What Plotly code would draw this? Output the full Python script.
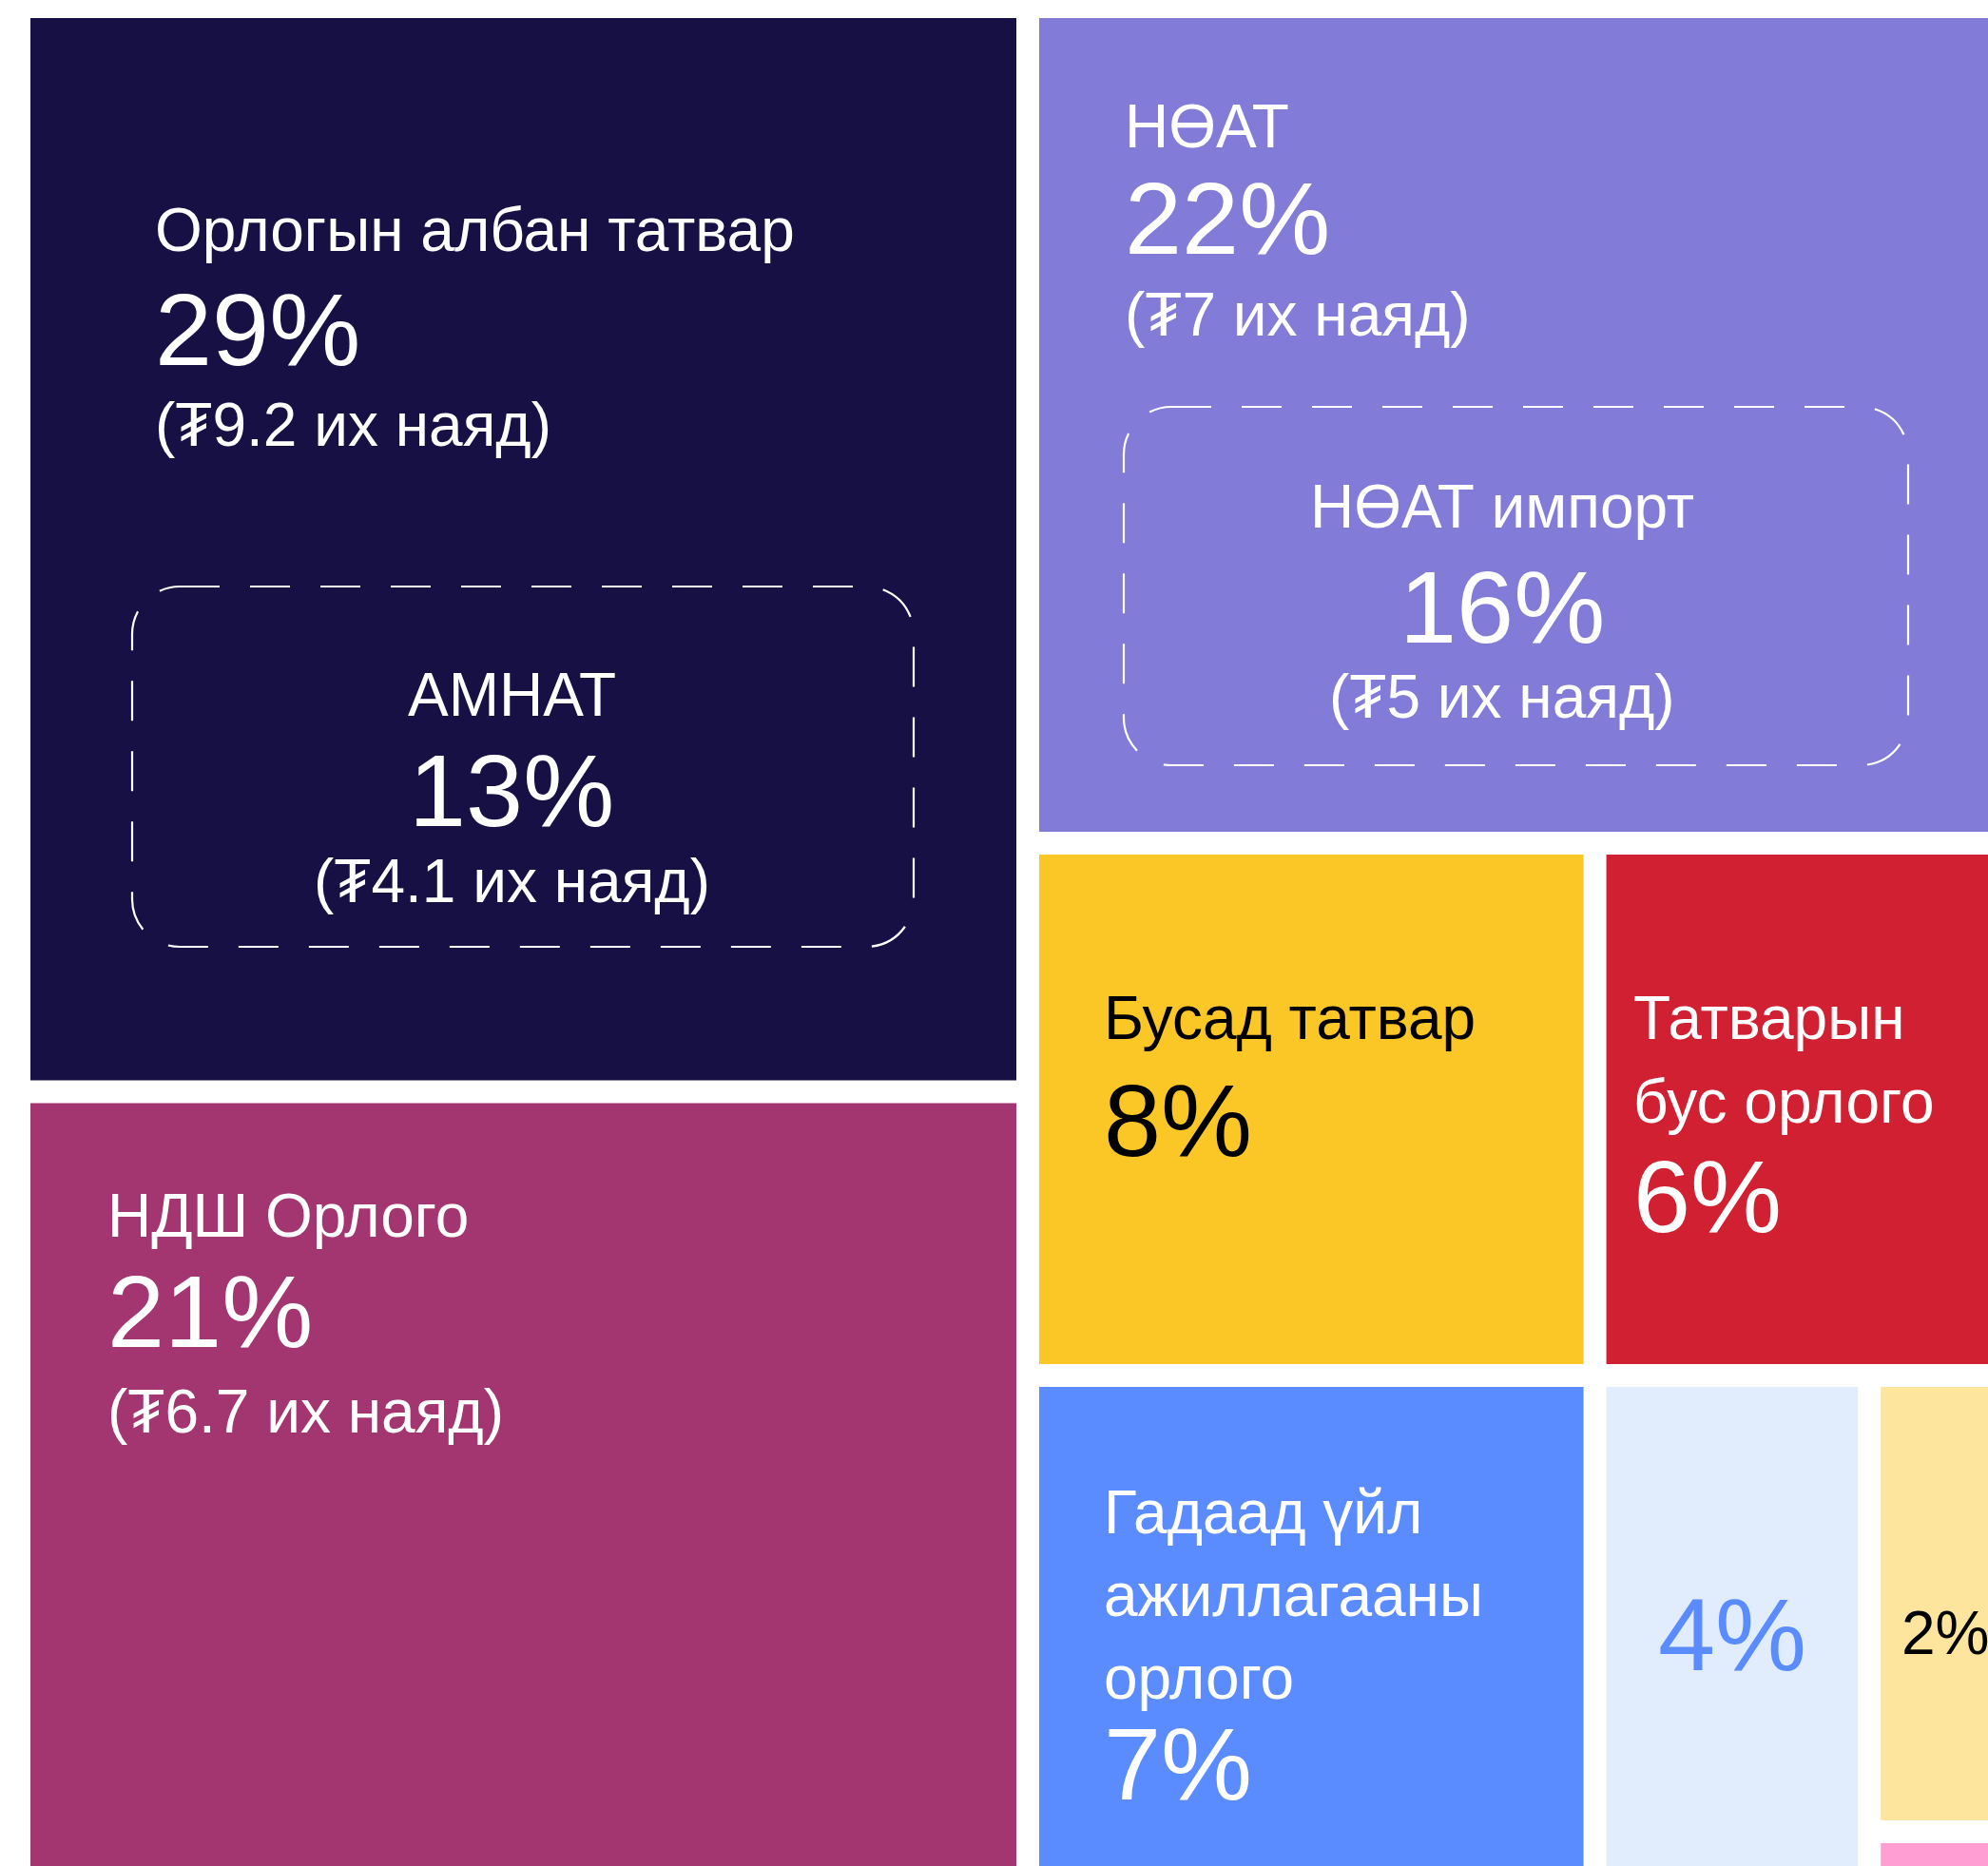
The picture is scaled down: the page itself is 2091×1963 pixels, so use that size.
import plotly.graph_objects as go

# ---------------- data ----------------
keys = ["income_tax", "social_ins", "vat", "other_tax", "non_tax",
        "foreign_trade", "small_a", "small_b", "small_c"]
titles = ["Орлогын албан татвар", "НДШ Орлого", "НӨАТ", "Бусад татвар",
          "Татварын<br>бус орлого", "Гадаад үйл<br>ажиллагааны<br>орлого", "", "", ""]
# % of total revenue (last, unlabeled tile estimated from its size)
shares = [29, 21, 22, 8, 6, 7, 4, 2, 0.2]
amounts = [9.2, 6.7, 7, None, None, None, None, None, None]   # ₮ их наяд

sub_titles = ["АМНАТ", "НӨАТ импорт"]
sub_parents = ["income_tax", "vat"]
sub_shares = [13, 16]
sub_amounts = [4.1, 5]

# ---------------- style ----------------
FONT = "Liberation Sans, Arial, Helvetica, sans-serif"
W, H = 2091, 1963
colors = {
    "income_tax": "#171045", "social_ins": "#A33570", "vat": "#837BD8",
    "other_tax": "#FAC727", "non_tax": "#D12031", "foreign_trade": "#5A8BFF",
    "small_a": "#E1EDFC", "small_b": "#FDE59D", "small_c": "#FF9ED3",
}
text_colors = {
    "income_tax": "white", "social_ins": "white", "vat": "white",
    "other_tax": "black", "non_tax": "white", "foreign_trade": "white",
    "small_a": "#5A8BFF", "small_b": "black", "small_c": "black",
}
# text block placement inside each tile (offsets from tile top-left, px)
text_style = {
    "income_tax":    dict(dx=131, base=245, line=87, pct_gap=120, amt_gap=85, pct_size=108),
    "social_ins":    dict(dx=81,  base=141, line=87, pct_gap=115, amt_gap=91, pct_size=108),
    "vat":           dict(dx=90,  base=136, line=87, pct_gap=112, amt_gap=86, pct_size=108),
    "other_tax":     dict(dx=68,  base=194, line=87, pct_gap=123, amt_gap=85, pct_size=108),
    "non_tax":       dict(dx=28,  base=194, line=88, pct_gap=115, amt_gap=85, pct_size=108),
    "foreign_trade": dict(dx=68,  base=154, line=87, pct_gap=106, amt_gap=85, pct_size=108),
    "small_a":       dict(dx=None, base=298, line=87, pct_gap=0, amt_gap=85, pct_size=108),
    "small_b":       dict(dx=22,  base=281, line=87, pct_gap=0, amt_gap=85, pct_size=64),
}
box_style = {
    "income_tax": dict(dx=107, dy=598, w=822, h=379, cdx=-12, base=136, pct_gap=116, amt_gap=80),
    "vat":        dict(dx=89,  dy=409, w=825, h=377, cdx=-14, base=127, pct_gap=121, amt_gap=79),
}
TITLE_SIZE = 64
CANVAS = (20, 7, 2125, 1975)   # treemap canvas (extends past the visible window)
PAD = 12

V = dict(zip(keys, shares))


def cuts(a, b, weights):
    tot = float(sum(weights))
    out, acc = [a], 0.0
    for w in weights:
        acc += w
        out.append(a + (b - a) * acc / tot)
    return out


# ---------------- value-driven layout ----------------
cx0, cy0, cx1, cy1 = CANVAS
left = ["income_tax", "social_ins"]
right = [k for k in keys if k not in left]
row2 = ["other_tax", "non_tax"]
row3 = ["foreign_trade", "small_a", "small_b", "small_c"]


def s(ks):
    return sum(V[k] for k in ks)


cells = {}
xc = cuts(cx0, cx1, [s(left), s(right)])
yl = cuts(cy0, cy1, [V[k] for k in left])
for i, k in enumerate(left):
    cells[k] = (xc[0], yl[i], xc[1], yl[i + 1])
yr = cuts(cy0, cy1, [V["vat"], s(row2), s(row3)])
cells["vat"] = (xc[1], yr[0], xc[2], yr[1])
# lower band: grid whose columns follow the upper row's values
xb = cuts(xc[1], xc[2], [V[k] for k in row2])
cells["other_tax"] = (xb[0], yr[1], xb[1], yr[2])
cells["non_tax"] = (xb[1], yr[1], xb[2], yr[2])
cells["foreign_trade"] = (xb[0], yr[2], xb[1], yr[3])
xs = cuts(xb[1], xb[2], [V["small_a"], s(["small_b", "small_c"])])
cells["small_a"] = (xs[0], yr[2], xs[1], yr[3])
ys = cuts(yr[2], yr[3], [V["small_b"], V["small_c"]])
cells["small_b"] = (xs[1], ys[0], xs[2], ys[1])
cells["small_c"] = (xs[1], ys[1], xs[2], ys[2])

tiles = {k: (a + PAD, b + PAD, c - PAD, d - PAD) for k, (a, b, c, d) in cells.items()}

fig = go.Figure()
for k in keys:
    x0, y0, x1, y1 = tiles[k]
    fig.add_trace(go.Scatter(
        x=[x0, x1, x1, x0, x0], y=[y0, y0, y1, y1, y0],
        mode="lines", fill="toself", fillcolor=colors[k],
        line=dict(width=0, color=colors[k]), hoverinfo="skip", showlegend=False))


def add_text(x, baseline, text, size, color, anchor="left"):
    fig.add_annotation(
        x=x, y=baseline - 0.3465 * size, xref="x", yref="y", text=text,
        showarrow=False, xanchor=anchor, yanchor="middle", borderpad=0, borderwidth=0,
        font=dict(family=FONT, size=size, color=color))


for i, k in enumerate(keys):
    if k not in text_style:
        continue
    st = text_style[k]
    x0, y0, x1, y1 = tiles[k]
    col = text_colors[k]
    if st["dx"] is None:
        tx, anchor = (x0 + x1) / 2, "center"
    else:
        tx, anchor = x0 + st["dx"], "left"
    b = y0 + st["base"]
    lines = [t for t in titles[i].split("<br>") if t]
    for j, ln in enumerate(lines):
        add_text(tx, b + j * st["line"], ln, TITLE_SIZE, col, anchor)
    if lines:
        pb = b + (len(lines) - 1) * st["line"] + st["pct_gap"]
    else:
        pb = b
    add_text(tx, pb, f"{shares[i]:g}%", st["pct_size"], col, anchor)
    if amounts[i] is not None:
        add_text(tx, pb + st["amt_gap"], f"(₮{amounts[i]:g} их наяд)", TITLE_SIZE, col, anchor)


def rounded_path(x0, y0, x1, y1, r):
    c = r * 0.5523
    return (f"M {x0 + r},{y0} L {x1 - r},{y0} "
            f"C {x1 - r + c},{y0} {x1},{y0 + r - c} {x1},{y0 + r} "
            f"L {x1},{y1 - r} "
            f"C {x1},{y1 - r + c} {x1 - r + c},{y1} {x1 - r},{y1} "
            f"L {x0 + r},{y1} "
            f"C {x0 + r - c},{y1} {x0},{y1 - r + c} {x0},{y1 - r} "
            f"L {x0},{y0 + r} "
            f"C {x0},{y0 + r - c} {x0 + r - c},{y0} {x0 + r},{y0} Z")


for i, parent in enumerate(sub_parents):
    bs = box_style[parent]
    px0, py0, _, _ = tiles[parent]
    bx0, by0 = px0 + bs["dx"], py0 + bs["dy"]
    bx1, by1 = bx0 + bs["w"], by0 + bs["h"]
    fig.add_shape(type="path", xref="x", yref="y", path=rounded_path(bx0, by0, bx1, by1, 50),
                  line=dict(color="white", width=2.2, dash="42px,32px"))
    cx = (bx0 + bx1) / 2 + bs["cdx"]
    b = by0 + bs["base"]
    add_text(cx, b, sub_titles[i], TITLE_SIZE, "white", "center")
    add_text(cx, b + bs["pct_gap"], f"{sub_shares[i]}%", 108, "white", "center")
    add_text(cx, b + bs["pct_gap"] + bs["amt_gap"], f"(₮{sub_amounts[i]:g} их наяд)",
             TITLE_SIZE, "white", "center")

fig.update_layout(
    width=W, height=H, margin=dict(l=0, r=0, t=0, b=0),
    paper_bgcolor="white", plot_bgcolor="white", showlegend=False,
    xaxis=dict(range=[0, W], visible=False, fixedrange=True),
    yaxis=dict(range=[H, 0], visible=False, fixedrange=True),
)

fig.write_html("out.html", config={"displayModeBar": False},
               post_script="document.body.style.margin='0';document.body.style.overflow='hidden';")
